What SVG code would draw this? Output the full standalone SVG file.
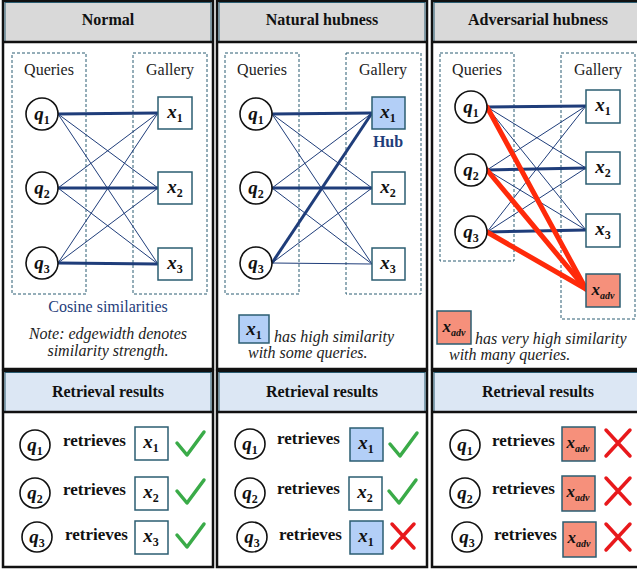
<svg xmlns="http://www.w3.org/2000/svg" width="637" height="569" viewBox="0 0 637 569" font-family="'Liberation Serif', 'Times New Roman', serif">
<defs>
<style>
text{font-family:'Liberation Serif','Times New Roman',serif;}
.panel{fill:#fff;stroke:#111;stroke-width:2.5;}
.hdr{fill:#d9d9d9;stroke:#2b5d72;stroke-width:1;}
.hdr2{fill:#dce7f4;stroke:#2b5d72;stroke-width:1;}
.sep{stroke:#111;stroke-width:2.5;}
.title{font-size:16px;font-weight:bold;text-anchor:middle;fill:#111;}
.grp{fill:none;stroke:#2b5d72;stroke-width:1;stroke-dasharray:3,2;}
.lbl{font-size:16px;text-anchor:middle;fill:#222;}
.qc{fill:#fff;stroke:#111;stroke-width:1.6;}
.qt{font-size:19px;font-weight:bold;font-style:italic;text-anchor:middle;fill:#111;}
.sub{font-size:12px;font-style:normal;}
.xb{fill:#fff;stroke:#2b5d72;stroke-width:1.5;}
.xhub{fill:#b3cff7;stroke:#2b5d72;stroke-width:1.5;}
.xadv{fill:#f6907b;stroke:#2b5d72;stroke-width:1.5;}
.e{stroke:#1f3d7a;stroke-width:1;fill:none;}
.E{stroke:#1f3d7a;stroke-width:3;fill:none;}
.r{stroke:#ff2a0a;stroke-width:5;fill:none;stroke-linecap:round;}
.note{font-size:16px;font-style:italic;fill:#222;}
.ret{font-size:17px;font-weight:bold;fill:#111;}
.ok{stroke:#3aab48;stroke-width:3.5;fill:none;stroke-linecap:round;stroke-linejoin:round;}
.no{stroke:#e8191c;stroke-width:3.5;fill:none;stroke-linecap:round;}
</style>
</defs>

<!-- Panels -->
<g id="panel-normal">
<rect class="panel" x="3" y="1" width="210" height="368"/>
<rect class="hdr" x="5" y="2.5" width="206" height="39"/>
<line class="sep" x1="3" y1="42" x2="213" y2="42"/>
<text class="title" x="108" y="25">Normal</text>
<rect class="grp" x="12" y="53" width="74" height="241"/>
<rect class="grp" x="133" y="53" width="74" height="241"/>
<text class="lbl" x="49" y="75">Queries</text>
<text class="lbl" x="170" y="75">Gallery</text>
</g>
<g id="panel-natural">
<rect class="panel" x="217" y="1" width="210" height="368"/>
<rect class="hdr" x="219" y="2.5" width="206" height="39"/>
<line class="sep" x1="217" y1="42" x2="427" y2="42"/>
<text class="title" x="322" y="25">Natural hubness</text>
<rect class="grp" x="225" y="53" width="74" height="241"/>
<rect class="grp" x="346" y="53" width="75" height="241"/>
<text class="lbl" x="262" y="75">Queries</text>
<text class="lbl" x="383" y="75">Gallery</text>
</g>
<g id="panel-adv">
<rect class="panel" x="432" y="1" width="207" height="368"/>
<rect class="hdr" x="434" y="2.5" width="205" height="39"/>
<line class="sep" x1="432" y1="42" x2="637" y2="42"/>
<text class="title" x="538" y="25">Adversarial hubness</text>
<rect class="grp" x="440" y="53" width="74" height="208"/>
<rect class="grp" x="561" y="53" width="74" height="266"/>
<text class="lbl" x="477" y="75">Queries</text>
<text class="lbl" x="598" y="75">Gallery</text>
</g>

<!-- Connectors -->
<g id="connectors">
<line class="E" x1="58" y1="114" x2="158" y2="113"/>
<line class="e" x1="58" y1="114" x2="158" y2="188"/>
<line class="e" x1="58" y1="114" x2="158" y2="264"/>
<line class="e" x1="58" y1="188" x2="158" y2="113"/>
<line class="E" x1="58" y1="188" x2="158" y2="188"/>
<line class="e" x1="58" y1="188" x2="158" y2="264"/>
<line class="e" x1="58" y1="263" x2="158" y2="113"/>
<line class="e" x1="58" y1="263" x2="158" y2="188"/>
<line class="E" x1="58" y1="263" x2="158" y2="264"/>
<line class="E" x1="272" y1="114" x2="372" y2="113"/>
<line class="e" x1="272" y1="114" x2="372" y2="188"/>
<line class="e" x1="272" y1="114" x2="372" y2="264"/>
<line class="e" x1="272" y1="188" x2="372" y2="113"/>
<line class="E" x1="272" y1="188" x2="372" y2="188"/>
<line class="e" x1="272" y1="188" x2="372" y2="264"/>
<line class="E" x1="272" y1="263" x2="372" y2="113"/>
<line class="e" x1="272" y1="263" x2="372" y2="188"/>
<line class="e" x1="272" y1="263" x2="372" y2="264"/>
<line class="E" x1="487" y1="107" x2="586" y2="106"/>
<line class="e" x1="487" y1="107" x2="586" y2="168"/>
<line class="e" x1="487" y1="107" x2="586" y2="230"/>
<line class="e" x1="487" y1="170" x2="586" y2="106"/>
<line class="E" x1="487" y1="170" x2="586" y2="168"/>
<line class="e" x1="487" y1="170" x2="586" y2="230"/>
<line class="e" x1="487" y1="232" x2="586" y2="106"/>
<line class="e" x1="487" y1="232" x2="586" y2="168"/>
<line class="E" x1="487" y1="232" x2="586" y2="230"/>
<line class="r" x1="487" y1="107" x2="586" y2="289"/>
<line class="r" x1="487" y1="170" x2="586" y2="289"/>
<line class="r" x1="487" y1="232" x2="586" y2="289"/>
</g>

<!-- Panel 1 nodes -->
<g id="n1-q1"><circle class="qc" cx="42" cy="114" r="16"/><text class="qt" x="42" y="120">q<tspan class="sub" dy="4">1</tspan></text></g>
<g id="n1-q2"><circle class="qc" cx="42" cy="188" r="16"/><text class="qt" x="42" y="194">q<tspan class="sub" dy="4">2</tspan></text></g>
<g id="n1-q3"><circle class="qc" cx="42" cy="263" r="16"/><text class="qt" x="42" y="269">q<tspan class="sub" dy="4">3</tspan></text></g>
<g id="n1-x1"><rect class="xb" x="158" y="97" width="34" height="32"/><text class="qt" x="175" y="118">x<tspan class="sub" dy="4">1</tspan></text></g>
<g id="n1-x2"><rect class="xb" x="158" y="172" width="34" height="32"/><text class="qt" x="175" y="193">x<tspan class="sub" dy="4">2</tspan></text></g>
<g id="n1-x3"><rect class="xb" x="158" y="248" width="34" height="32"/><text class="qt" x="175" y="269">x<tspan class="sub" dy="4">3</tspan></text></g>
<g id="n1-notes">
<text x="108" y="312" style="font-size:16px;text-anchor:middle;fill:#1f3d7a">Cosine similarities</text>
<text class="note" x="108" y="339" text-anchor="middle">Note: edgewidth denotes</text>
<text class="note" x="108" y="356" text-anchor="middle">similarity strength.</text>
</g>

<!-- Panel 2 nodes -->
<g id="n2-q1"><circle class="qc" cx="256" cy="114" r="16"/><text class="qt" x="256" y="120">q<tspan class="sub" dy="4">1</tspan></text></g>
<g id="n2-q2"><circle class="qc" cx="256" cy="188" r="16"/><text class="qt" x="256" y="194">q<tspan class="sub" dy="4">2</tspan></text></g>
<g id="n2-q3"><circle class="qc" cx="256" cy="263" r="16"/><text class="qt" x="256" y="269">q<tspan class="sub" dy="4">3</tspan></text></g>
<g id="n2-x1"><rect class="xhub" x="372" y="97" width="33" height="32"/><text class="qt" x="388" y="118">x<tspan class="sub" dy="4">1</tspan></text>
<text x="388" y="147" style="font-size:16px;font-weight:bold;text-anchor:middle;fill:#1f3d7a">Hub</text></g>
<g id="n2-x2"><rect class="xb" x="372" y="172" width="33" height="32"/><text class="qt" x="388" y="193">x<tspan class="sub" dy="4">2</tspan></text></g>
<g id="n2-x3"><rect class="xb" x="372" y="248" width="33" height="32"/><text class="qt" x="388" y="269">x<tspan class="sub" dy="4">3</tspan></text></g>
<g id="n2-legend">
<rect class="xhub" x="239" y="315" width="30" height="28"/><text class="qt" x="254" y="335">x<tspan class="sub" dy="4">1</tspan></text>
<text class="note" x="274" y="342">has high similarity</text>
<text class="note" x="248" y="358">with some queries.</text>
</g>

<!-- Panel 3 nodes -->
<g id="n3-q1"><circle class="qc" cx="471" cy="107" r="16"/><text class="qt" x="471" y="113">q<tspan class="sub" dy="4">1</tspan></text></g>
<g id="n3-q2"><circle class="qc" cx="471" cy="170" r="16"/><text class="qt" x="471" y="176">q<tspan class="sub" dy="4">2</tspan></text></g>
<g id="n3-q3"><circle class="qc" cx="471" cy="232" r="16"/><text class="qt" x="471" y="238">q<tspan class="sub" dy="4">3</tspan></text></g>
<g id="n3-x1"><rect class="xb" x="586" y="90" width="34" height="33"/><text class="qt" x="603" y="111">x<tspan class="sub" dy="4">1</tspan></text></g>
<g id="n3-x2"><rect class="xb" x="586" y="152" width="34" height="32"/><text class="qt" x="603" y="173">x<tspan class="sub" dy="4">2</tspan></text></g>
<g id="n3-x3"><rect class="xb" x="586" y="214" width="34" height="33"/><text class="qt" x="603" y="235">x<tspan class="sub" dy="4">3</tspan></text></g>
<g id="n3-xadv"><rect class="xadv" x="586" y="274" width="34" height="33"/><text class="qt" x="603" y="295" style="font-size:17px">x<tspan class="sub" dy="4" style="font-size:10px;font-style:italic">adv</tspan></text></g>
<g id="n3-legend">
<rect class="xadv" x="437" y="311" width="34" height="33"/><text class="qt" x="454" y="332" style="font-size:17px">x<tspan class="sub" dy="4" style="font-size:10px;font-style:italic">adv</tspan></text>
<text class="note" x="475" y="344">has very high similarity</text>
<text class="note" x="449" y="360">with many queries.</text>
</g>

<!-- Retrieval results panels -->
<g id="res-normal">
<rect class="panel" x="3" y="371" width="210" height="196"/>
<rect class="hdr2" x="5" y="372.5" width="206" height="39"/>
<line class="sep" x1="3" y1="412" x2="213" y2="412"/>
<text class="title" x="108" y="397">Retrieval results</text>
</g>
<g id="res-natural">
<rect class="panel" x="217" y="371" width="210" height="196"/>
<rect class="hdr2" x="219" y="372.5" width="206" height="39"/>
<line class="sep" x1="217" y1="412" x2="427" y2="412"/>
<text class="title" x="322" y="397">Retrieval results</text>
</g>
<g id="res-adv">
<rect class="panel" x="432" y="371" width="207" height="196"/>
<rect class="hdr2" x="434" y="372.5" width="205" height="39"/>
<line class="sep" x1="432" y1="412" x2="637" y2="412"/>
<text class="title" x="538" y="397">Retrieval results</text>
</g>

<!-- Retrieval rows panel 1 -->
<g id="r1-row1"><circle class="qc" cx="35" cy="445" r="15"/><text class="qt" x="35" y="451">q<tspan class="sub" dy="4">1</tspan></text>
<text class="ret" x="63" y="446">retrieves</text>
<rect class="xb" x="135" y="427" width="33" height="33"/><text class="qt" x="151" y="448">x<tspan class="sub" dy="4">1</tspan></text>
<path class="ok" d="M177,443 L187,455 L204,432"/></g>
<g id="r1-row2"><circle class="qc" cx="35" cy="493" r="15"/><text class="qt" x="35" y="499">q<tspan class="sub" dy="4">2</tspan></text>
<text class="ret" x="63" y="495">retrieves</text>
<rect class="xb" x="135" y="477" width="33" height="33"/><text class="qt" x="151" y="498">x<tspan class="sub" dy="4">2</tspan></text>
<path class="ok" d="M177,491 L187,503 L204,480"/></g>
<g id="r1-row3"><circle class="qc" cx="37" cy="537" r="15"/><text class="qt" x="37" y="543">q<tspan class="sub" dy="4">3</tspan></text>
<text class="ret" x="65" y="540">retrieves</text>
<rect class="xb" x="135" y="521" width="33" height="33"/><text class="qt" x="151" y="542">x<tspan class="sub" dy="4">3</tspan></text>
<path class="ok" d="M177,535 L187,547 L204,524"/></g>

<!-- Retrieval rows panel 2 -->
<g id="r2-row1"><circle class="qc" cx="250" cy="444" r="15"/><text class="qt" x="250" y="450">q<tspan class="sub" dy="4">1</tspan></text>
<text class="ret" x="277" y="444">retrieves</text>
<rect class="xhub" x="350" y="428" width="33" height="33"/><text class="qt" x="366" y="449">x<tspan class="sub" dy="4">1</tspan></text>
<path class="ok" d="M390,444 L400,456 L417,433"/></g>
<g id="r2-row2"><circle class="qc" cx="250" cy="493" r="15"/><text class="qt" x="250" y="499">q<tspan class="sub" dy="4">2</tspan></text>
<text class="ret" x="277" y="494">retrieves</text>
<rect class="xb" x="349" y="477" width="33" height="33"/><text class="qt" x="365" y="498">x<tspan class="sub" dy="4">2</tspan></text>
<path class="ok" d="M389,491 L399,503 L416,480"/></g>
<g id="r2-row3"><circle class="qc" cx="252" cy="537" r="15"/><text class="qt" x="252" y="543">q<tspan class="sub" dy="4">3</tspan></text>
<text class="ret" x="279" y="540">retrieves</text>
<rect class="xhub" x="350" y="521" width="33" height="33"/><text class="qt" x="366" y="542">x<tspan class="sub" dy="4">1</tspan></text>
<path class="no" d="M392,524 L414,548 M414,524 L392,548"/></g>

<!-- Retrieval rows panel 3 -->
<g id="r3-row1"><circle class="qc" cx="465" cy="445" r="15"/><text class="qt" x="465" y="451">q<tspan class="sub" dy="4">1</tspan></text>
<text class="ret" x="492" y="446">retrieves</text>
<rect class="xadv" x="562" y="427" width="33" height="34"/><text class="qt" x="578" y="448" style="font-size:17px">x<tspan class="sub" dy="4" style="font-size:10px;font-style:italic">adv</tspan></text>
<path class="no" d="M606,430 L630,456 M630,430 L606,456"/></g>
<g id="r3-row2"><circle class="qc" cx="465" cy="493" r="15"/><text class="qt" x="465" y="499">q<tspan class="sub" dy="4">2</tspan></text>
<text class="ret" x="492" y="494">retrieves</text>
<rect class="xadv" x="562" y="476" width="33" height="35"/><text class="qt" x="578" y="497" style="font-size:17px">x<tspan class="sub" dy="4" style="font-size:10px;font-style:italic">adv</tspan></text>
<path class="no" d="M606,478 L630,504 M630,478 L606,504"/></g>
<g id="r3-row3"><circle class="qc" cx="467" cy="537" r="15"/><text class="qt" x="467" y="543">q<tspan class="sub" dy="4">3</tspan></text>
<text class="ret" x="494" y="540">retrieves</text>
<rect class="xadv" x="563" y="522" width="33" height="35"/><text class="qt" x="579" y="543" style="font-size:17px">x<tspan class="sub" dy="4" style="font-size:10px;font-style:italic">adv</tspan></text>
<path class="no" d="M606,524 L630,550 M630,524 L606,550"/></g>
</svg>
